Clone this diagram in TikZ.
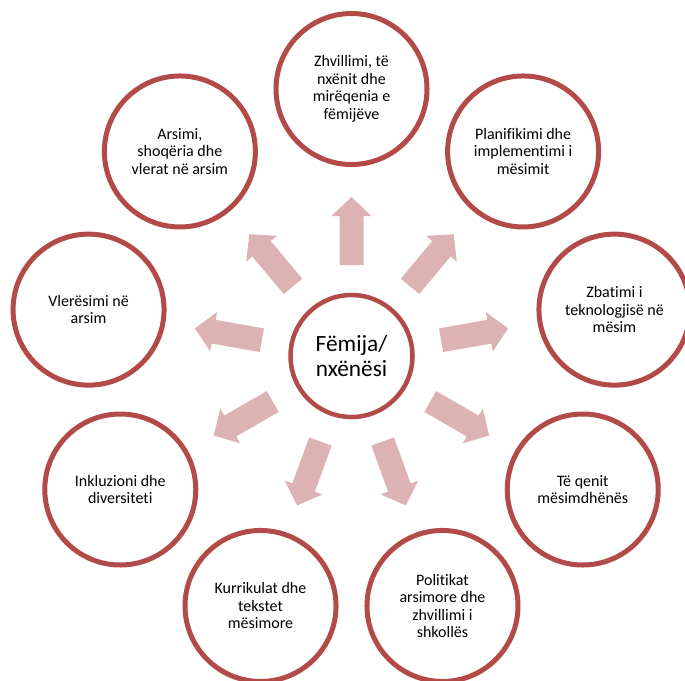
\documentclass[tikz,border=0pt]{standalone}
\usepackage{fontspec}
\setmainfont[Ligatures={NoCommon}]{Carlito}
\definecolor{ringred}{RGB}{178,74,72}
\definecolor{arrowpink}{RGB}{221,178,178}
\begin{document}
\begin{tikzpicture}[x=1pt,y=1pt,
  outer/.style={circle, draw=ringred, line width=5pt, minimum size=151pt, inner sep=0pt,
    fill=white, align=center, font=\fontsize{16}{17.5}\selectfont},
  hub/.style={circle, draw=ringred, line width=4.5pt, minimum size=122pt, inner sep=0pt,
    fill=white, align=center, font=\fontsize{23.3}{25.5}\selectfont},
  blockarrow/.style={fill=arrowpink, draw=none}]
\useasboundingbox (0,0) rectangle (685,-680);
\clip (0,0) rectangle (685,-680);
\fill[white] (0,0) rectangle (685,-680);
\begin{scope}[shift={(351.5,-356)}]
  \foreach \a in {90,50,10,-30,-70,-110,-150,170,130}{
    \fill[blockarrow, rotate=\a] (91,-12) -- (140,-12) -- (140,-20) -- (159,0)
      -- (140,20) -- (140,12) -- (91,12) -- cycle;
  }
  \node[hub] (hub) at (0,0) {Fëmija/\\nxënësi};
  \node[outer] (n1) at (90:267) {Zhvillimi, të\\nxënit dhe\\mirëqenia e\\fëmijëve};
  \node[outer] (n2) at (50:267) {Planifikimi dhe\\implementimi i\\mësimit};
  \node[outer] (n3) at (10:267) {Zbatimi i\\teknologjisë në\\mësim};
  \node[outer] (n4) at (-30:267) {Të qenit\\mësimdhënës};
  \node[outer] (n5) at (-70:266) {Politikat\\arsimore dhe\\zhvillimi i\\shkollës};
  \node[outer] (n6) at (-110:266) {Kurrikulat dhe\\tekstet\\mësimore};
  \node[outer] (n7) at (-150:267) {Inkluzioni dhe\\diversiteti};
  \node[outer] (n8) at (170:267) {Vlerësimi në\\arsim};
  \node[outer] (n9) at (130:267) {Arsimi,\\shoqëria dhe\\vlerat në arsim};
\end{scope}
\end{tikzpicture}
\end{document}
